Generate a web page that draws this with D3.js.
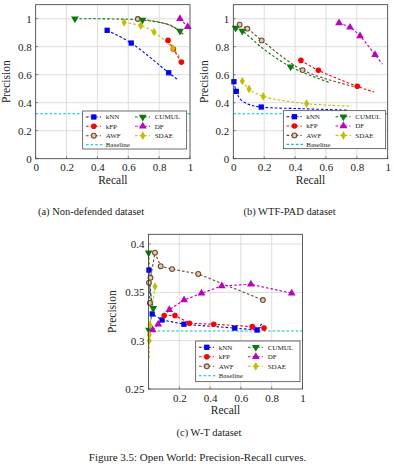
<!DOCTYPE html>
<html><head><meta charset="utf-8">
<script src="https://cdn.jsdelivr.net/npm/d3@7"></script>
<style>
body{margin:0;background:#fff;}
svg{display:block;}
svg text{font-family:"Liberation Serif","Times New Roman",serif !important;fill:#222;}
</style></head><body>
<svg id="c" width="395" height="473"></svg>
<script>
// ---------- DATA ----------
const seriesNames = ["kNN","kFP","AWF","CUMUL","DF","SDAE"];
const xTicksAB = [0,0.2,0.4,0.6,0.8,1];
const yTicksAB = [0,0.2,0.4,0.6,0.8,1];
const xTicksC = [0.2,0.4,0.6,0.8,1];
const yTicksC = [0.25,0.3,0.35,0.4];
const captions = ["(a) Non-defended dataset","(b) WTF-PAD dataset","(c) W-T dataset"];
const figureCaption = "Figure 3.5: Open World: Precision-Recall curves.";

// [recall, precision, hasMarker]
const nd_kNN   = [[0.463,0.917,1],[0.619,0.826,1],[0.862,0.614,1],[0.918,0.567,0]];
const nd_kFP   = [[0.858,0.845,1],[0.892,0.783,1],[0.944,0.690,1]];
const nd_AWF   = [[0.662,0.998,1],[0.78,0.98,0],[0.88,0.95,0],[0.955,0.89,0]];
const nd_CUMUL = [[0.254,1.0,1],[0.5,0.998,0],[0.692,0.99,1],[0.85,0.96,0],[0.935,0.912,1],[0.955,0.89,0]];
const nd_DF    = [[0.935,1.0,1],[0.985,0.943,1]];
const nd_SDAE  = [[0.573,0.974,1],[0.681,0.95,1],[0.767,0.905,1],[0.89,0.788,1],[0.933,0.729,0]];
const nd_baseline = 0.321;

const wp_kNN   = [[0.004,0.55,1],[0.019,0.481,1],[0.05,0.42,0],[0.1,0.388,0],[0.181,0.369,1],[0.45,0.357,0],[0.734,0.347,0]];
const wp_kFP   = [[0.438,0.702,1],[0.551,0.631,1],[0.803,0.517,1],[0.911,0.476,0]];
const wp_AWF   = [[0.041,0.957,1],[0.091,0.929,1],[0.184,0.845,1],[0.449,0.633,1],[0.78,0.515,0]];
const wp_CUMUL = [[0.015,0.933,1],[0.058,0.912,1],[0.2,0.78,0],[0.371,0.657,1],[0.62,0.545,0]];
const wp_DF    = [[0.685,0.969,1],[0.756,0.938,1],[0.821,0.876,1],[0.918,0.743,1],[0.965,0.676,0]];
const wp_SDAE  = [[0.058,0.555,1],[0.102,0.498,1],[0.194,0.445,1],[0.475,0.393,1],[0.767,0.376,0]];
const wp_baseline = 0.321;

const wt_kNN   = [[0.003,0.373,1],[0.024,0.3276,1],[0.088,0.3214,1],[0.23,0.317,1],[0.56,0.313,1],[0.705,0.311,1],[0.738,0.318,0]];
const wt_kFP   = [[0.102,0.326,1],[0.172,0.326,1],[0.266,0.318,1],[0.424,0.317,1],[0.674,0.3145,1],[0.75,0.313,1]];
const wt_AWF   = [[0.009,0.339,1],[0.003,0.36,1],[0.013,0.365,1],[0.042,0.391,1],[0.079,0.377,1],[0.153,0.374,1],[0.323,0.369,1],[0.743,0.342,1]];
const wt_CUMUL = [[0.001,0.391,1],[0.01,0.352,0],[0.031,0.3335,1],[0.015,0.322,0],[0.003,0.311,1]];
const wt_DF    = [[0.027,0.311,1],[0.063,0.317,1],[0.135,0.332,1],[0.231,0.342,1],[0.344,0.349,1],[0.476,0.3566,1],[0.665,0.3583,1],[0.93,0.349,1]];
const wt_SDAE  = [[0.005,0.282,0],[0.005,0.300,1],[0.005,0.306,1],[0.01,0.316,1],[0.042,0.356,1]];
const wt_baseline = 0.31;

// ---------- STYLE ----------
const colors = {kNN:"#0000ff",kFP:"#ff0000",AWF:"#6e4a28",CUMUL:"#0a7a0a",DF:"#bf00bf",SDAE:"#bfbf00",Baseline:"#00bfbf"};
const FONT = "'Liberation Serif','Times New Roman',serif";
const svg = d3.select("#c");

function marker(g, name, x, y){
  const c = colors[name];
  if(name==="kNN"){
    g.append("path").attr("d",d3.symbol(d3.symbolSquare,28)()).attr("transform",`translate(${x},${y})`).attr("fill",c);
  } else if(name==="kFP"){
    g.append("circle").attr("cx",x).attr("cy",y).attr("r",2.8).attr("fill",c);
  } else if(name==="AWF"){
    g.append("circle").attr("cx",x).attr("cy",y).attr("r",2.4).attr("fill","#d9cbbd").attr("stroke",c).attr("stroke-width",1.1);
  } else if(name==="CUMUL"){
    g.append("path").attr("d",d3.symbol(d3.symbolTriangle,26)()).attr("transform",`translate(${x},${y}) rotate(180)`).attr("fill",c);
  } else if(name==="DF"){
    g.append("path").attr("d",d3.symbol(d3.symbolTriangle,26)()).attr("transform",`translate(${x},${y})`).attr("fill",c);
  } else if(name==="SDAE"){
    g.append("path").attr("d",d3.symbol(d3.symbolDiamond,22)()).attr("transform",`translate(${x},${y})`).attr("fill",c);
  }
}

function panel(cfg){
  const {x0,x1,y0,y1,ydom,xticks,yticks,series,baseline,curve,legend,xlabelY,ylabelX} = cfg;
  const x = d3.scaleLinear().domain([0,1]).range([x0,x1]);
  const y = d3.scaleLinear().domain(ydom).range([y1,y0]);
  const g = svg.append("g");
  g.selectAll(".gx").data(xticks.filter(t=>t>0&&t<1)).enter().append("line")
    .attr("x1",d=>x(d)).attr("x2",d=>x(d)).attr("y1",y0).attr("y2",y1).attr("stroke","#cfcfcf").attr("stroke-width",0.7);
  g.selectAll(".gy").data(yticks.filter(t=>t>ydom[0]&&t<ydom[1])).enter().append("line")
    .attr("y1",d=>y(d)).attr("y2",d=>y(d)).attr("x1",x0).attr("x2",x1).attr("stroke","#cfcfcf").attr("stroke-width",0.7);
  const ax = g.append("g").attr("transform",`translate(0,${y1})`).call(d3.axisBottom(x).tickValues(xticks).tickSize(0).tickPadding(5).tickFormat(d3.format("~g")));
  const ay = g.append("g").attr("transform",`translate(${x0},0)`).call(d3.axisLeft(y).tickValues(yticks).tickSize(0).tickPadding(4).tickFormat(d3.format("~g")));
  [ax,ay].forEach(a=>{a.attr("font-family",FONT); a.select(".domain").remove(); a.selectAll("text").attr("font-size",11).style("font-family",FONT).attr("fill","#222");});
  g.selectAll(".tx").data(xticks).enter().append("line").attr("x1",d=>x(d)).attr("x2",d=>x(d)).attr("y1",y1).attr("y2",y1-2.5).attr("stroke","#444").attr("stroke-width",0.6);
  g.selectAll(".ty").data(yticks).enter().append("line").attr("y1",d=>y(d)).attr("y2",d=>y(d)).attr("x1",x0).attr("x2",x0+2.5).attr("stroke","#444").attr("stroke-width",0.6);
  g.append("line").attr("x1",x0).attr("x2",x1).attr("y1",y(baseline)).attr("y2",y(baseline))
    .attr("stroke",colors.Baseline).attr("stroke-width",1.1).attr("stroke-dasharray","2.6,2");
  const line = d3.line().x(d=>x(d[0])).y(d=>y(d[1])).curve(curve);
  seriesNames.forEach(n=>{
    g.append("path").attr("d",line(series[n])).attr("fill","none").attr("stroke",colors[n]).attr("stroke-width",1.1).attr("stroke-dasharray","2.6,2");
  });
  seriesNames.forEach(n=>{
    series[n].filter(d=>d[2]).forEach(d=>marker(g,n,x(d[0]),y(d[1])));
  });
  g.append("rect").attr("x",x0).attr("y",y0).attr("width",x1-x0).attr("height",y1-y0).attr("fill","none").attr("stroke","#333").attr("stroke-width",0.8);
  g.append("text").attr("x",(x0+x1)/2).attr("y",xlabelY).attr("text-anchor","middle").attr("font-size",11.5).style("font-family",FONT).text("Recall");
  g.append("text").attr("transform",`translate(${ylabelX},${(y0+y1)/2}) rotate(-90)`).attr("text-anchor","middle").attr("font-size",11.5).style("font-family",FONT).text("Precision");
  const L = legend;
  const lg = g.append("g");
  lg.append("rect").attr("x",L.x).attr("y",L.y).attr("width",L.w).attr("height",L.h).attr("fill","#fff").attr("stroke","#333").attr("stroke-width",0.7);
  const items = [["kNN",0,0],["CUMUL",1,0],["kFP",0,1],["DF",1,1],["AWF",0,2],["SDAE",1,2],["Baseline",0,3]];
  items.forEach(([n,col,row])=>{
    const lx = L.x + (col===0?3.3:52.3);
    const ly = L.y + L.rows[row];
    const len = n==="Baseline"?17:15;
    lg.append("line").attr("x1",lx).attr("x2",lx+len).attr("y1",ly).attr("y2",ly).attr("stroke",colors[n]).attr("stroke-width",1.1).attr("stroke-dasharray","2.6,2");
    if(n!=="Baseline") marker(lg,n,lx+7.8,ly);
    lg.append("text").attr("x",L.x+(col===0?23:72)).attr("y",ly+2.4).attr("font-size",7).style("font-family",FONT).text(n);
  });
}

const rowsL = [6,15.3,24.7,33.7];
panel({x0:35.7,x1:190,y0:4.7,y1:158.7,ydom:[0,1.1],xticks:xTicksAB,yticks:yTicksAB,
  series:{kNN:nd_kNN,kFP:nd_kFP,AWF:nd_AWF,CUMUL:nd_CUMUL,DF:nd_DF,SDAE:nd_SDAE},baseline:nd_baseline,
  curve:d3.curveCatmullRom.alpha(0.5),legend:{x:82.7,y:111,w:104,h:38,rows:rowsL},xlabelY:184,ylabelX:10});
panel({x0:233.3,x1:387.7,y0:4.7,y1:158.7,ydom:[0,1.1],xticks:xTicksAB,yticks:yTicksAB,
  series:{kNN:wp_kNN,kFP:wp_kFP,AWF:wp_AWF,CUMUL:wp_CUMUL,DF:wp_DF,SDAE:wp_SDAE},baseline:wp_baseline,
  curve:d3.curveCatmullRom.alpha(0.5),legend:{x:283.3,y:110.7,w:102.4,h:38,rows:rowsL},xlabelY:184,ylabelX:208});
panel({x0:148.5,x1:302.5,y0:234.3,y1:389,ydom:[0.25,0.41],xticks:xTicksC,yticks:yTicksC,
  series:{kNN:wt_kNN,kFP:wt_kFP,AWF:wt_AWF,CUMUL:wt_CUMUL,DF:wt_DF,SDAE:wt_SDAE},baseline:wt_baseline,
  curve:d3.curveLinear,legend:{x:195.7,y:341,w:104.3,h:40.7,rows:[6.3,15.7,25.3,34.7]},xlabelY:414,ylabelX:116});

const cap = (x,y,s,t)=>svg.append("text").attr("x",x).attr("y",y).attr("text-anchor","middle").attr("font-size",s).style("font-family",FONT).text(t);
cap(91,215,10.5,captions[0]);
cap(289.5,215,10.5,captions[1]);
cap(209,436,10.5,captions[2]);
cap(197.5,461,11,figureCaption);
</script></body></html>
